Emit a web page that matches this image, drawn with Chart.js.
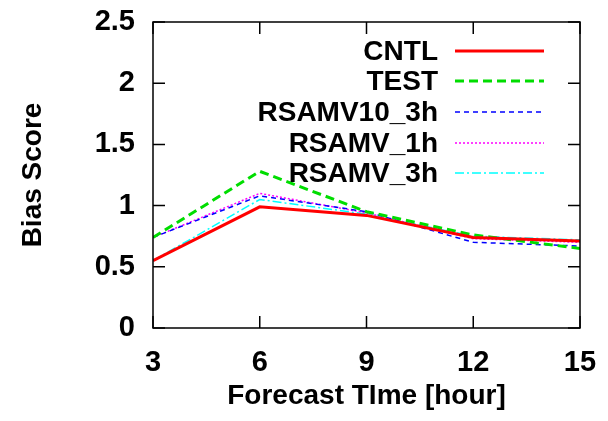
<!DOCTYPE html>
<html>
<head>
<meta charset="utf-8">
<script src="https://cdn.jsdelivr.net/npm/chart.js@4"></script>
<style>
  html, body { margin: 0; padding: 0; background: #fff; }
  #wrap { width: 608px; height: 421px; }
</style>
</head>
<body>
<div id="wrap"><canvas id="biasChart" width="608" height="421"></canvas></div>
<script>
// --- Données ---
const forecastHours = [3, 6, 9, 12, 15];
const cntl = [0.55, 0.99, 0.92, 0.74, 0.71];
const test = [0.74, 1.28, 0.95, 0.76, 0.65];
const rsamv10_3h = [0.74, 1.08, 0.95, 0.70, 0.67];
const rsamv_1h = [0.74, 1.10, 0.94, 0.73, 0.70];
const rsamv_3h = [0.55, 1.05, 0.93, 0.75, 0.72];
const yTicks = [0, 0.5, 1, 1.5, 2, 2.5];

const FONT = "'Liberation Sans', Arial, sans-serif";

function toPoints(values) {
  return forecastHours.map((h, i) => ({ x: h, y: values[i] }));
}

const datasets = [
  { label: "CNTL", data: toPoints(cntl), borderColor: "#ff0000", borderWidth: 3, borderDash: [] },
  { label: "TEST", data: toPoints(test), borderColor: "#00dd00", borderWidth: 3, borderDash: [9, 5] },
  { label: "RSAMV10_3h", data: toPoints(rsamv10_3h), borderColor: "#0000ff", borderWidth: 1.5, borderDash: [5, 4] },
  { label: "RSAMV_1h", data: toPoints(rsamv_1h), borderColor: "#ff00ff", borderWidth: 1.5, borderDash: [2, 2] },
  { label: "RSAMV_3h", data: toPoints(rsamv_3h), borderColor: "#00ffff", borderWidth: 1.5, borderDash: [9, 3, 2, 3] },
].map((d) => ({ ...d, fill: false, pointRadius: 0, tension: 0 }));

// --- Cadre, graduations internes et légende façon gnuplot ---
const framePlugin = {
  id: "frame",
  afterDraw(chart) {
    const { ctx, chartArea: a, scales } = chart;
    const tick = 12;
    ctx.save();
    ctx.strokeStyle = "#000";
    ctx.lineWidth = 1.5;
    ctx.setLineDash([]);
    ctx.strokeRect(a.left, a.top, a.right - a.left, a.bottom - a.top);
    ctx.beginPath();
    yTicks.forEach((v) => {
      const y = scales.y.getPixelForValue(v);
      ctx.moveTo(a.left, y); ctx.lineTo(a.left + tick, y);
      ctx.moveTo(a.right, y); ctx.lineTo(a.right - tick, y);
    });
    forecastHours.forEach((h) => {
      const x = scales.x.getPixelForValue(h);
      ctx.moveTo(x, a.bottom); ctx.lineTo(x, a.bottom - tick);
      ctx.moveTo(x, a.top); ctx.lineTo(x, a.top + tick);
    });
    ctx.stroke();

    // légende
    ctx.font = "bold 28px " + FONT;
    ctx.textAlign = "right";
    ctx.textBaseline = "middle";
    const rows = [51, 81, 112, 143, 173];
    chart.data.datasets.forEach((ds, i) => {
      const y = rows[i];
      ctx.fillStyle = "#000";
      ctx.fillText(ds.label, 438, y + 1);
      ctx.strokeStyle = ds.borderColor;
      ctx.lineWidth = ds.borderWidth;
      ctx.setLineDash(ds.borderDash);
      ctx.beginPath();
      ctx.moveTo(455, y);
      ctx.lineTo(544, y);
      ctx.stroke();
    });
    ctx.restore();
  },
};

new Chart(document.getElementById("biasChart").getContext("2d"), {
  type: "line",
  data: { datasets },
  plugins: [framePlugin],
  options: {
    responsive: false,
    animation: false,
    layout: { padding: { top: 22, right: 28, left: 12, bottom: 4 } },
    plugins: { legend: { display: false }, tooltip: { enabled: false } },
    scales: {
      x: {
        type: "linear",
        min: 3,
        max: 15,
        afterBuildTicks: (s) => { s.ticks = forecastHours.map((v) => ({ value: v })); },
        afterFit: (s) => {
          s.height = 421 - 328 - 4;
          s.paddingLeft = 0;
          s.paddingRight = 0;
        },
        grid: { display: false, drawTicks: false },
        border: { display: false },
        ticks: { color: "#000", padding: 18, font: { family: FONT, size: 29, weight: "bold" } },
        title: {
          display: true,
          text: "Forecast TIme [hour]",
          color: "#000",
          padding: { top: 12 },
          font: { family: FONT, size: 28, weight: "bold" },
        },
      },
      y: {
        min: 0,
        max: 2.5,
        afterBuildTicks: (s) => { s.ticks = yTicks.map((v) => ({ value: v })); },
        afterFit: (s) => {
          s.width = 153 - 12;
          s.paddingTop = 0;
          s.paddingBottom = 0;
        },
        grid: { display: false, drawTicks: false },
        border: { display: false },
        ticks: {
          color: "#000",
          padding: 18,
          callback: (v) => String(v),
          font: { family: FONT, size: 29, weight: "bold" },
        },
        title: {
          display: true,
          text: "Bias Score",
          color: "#000",
          padding: { bottom: 0 },
          font: { family: FONT, size: 28, weight: "bold" },
        },
      },
    },
  },
});
</script>
</body>
</html>
